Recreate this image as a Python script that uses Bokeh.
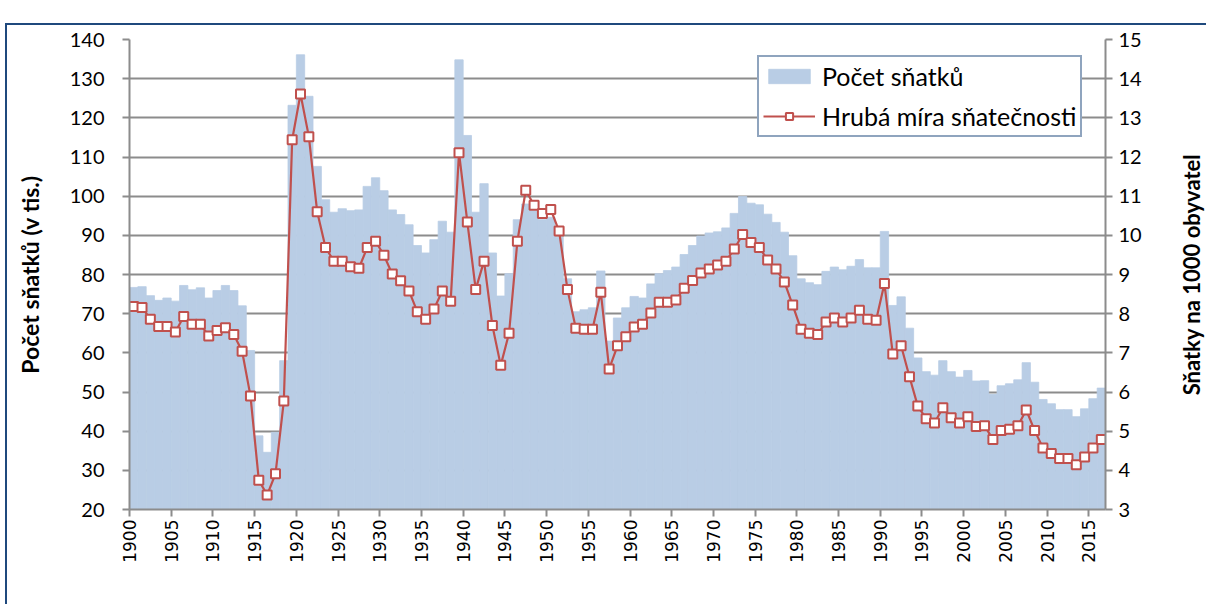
import math
from bokeh.plotting import figure
from bokeh.layouts import row
from bokeh.models import (Range1d, LinearAxis, FixedTicker, Legend, LegendItem,
                          ColumnDataSource)
from bokeh.transform import dodge
from bokeh.embed import file_html
from bokeh.resources import INLINE

years = list(range(1900, 2017))

marriages_thousands = [
    76.7, 76.9, 74.6, 73.4, 74.0, 73.2, 77.2, 76.1, 76.6, 74.0,   # 1900-1909
    75.9, 77.2, 75.9, 72.0, 60.6, 38.8, 34.6, 39.7, 58.0, 123.2,  # 1910-1919
    136.1, 125.5, 107.6, 99.1, 95.9, 96.8, 96.3, 96.5, 102.5, 104.7,  # 1920-1929
    101.4, 96.5, 95.3, 92.7, 87.4, 85.5, 88.9, 93.6, 90.8, 134.8,  # 1930-1939
    115.5, 95.9, 103.2, 85.5, 74.5, 80.2, 94.0, 98.0, 96.3, 94.0,  # 1940-1949
    94.6, 89.5, 78.9, 70.5, 71.0, 71.5, 80.9, 63.0, 68.9, 71.5,   # 1950-1959
    74.4, 74.0, 77.6, 80.2, 81.0, 81.9, 85.1, 87.4, 89.8, 90.6,   # 1960-1969
    90.9, 91.9, 95.6, 99.9, 98.2, 97.8, 95.4, 93.3, 90.8, 84.8,   # 1970-1979
    78.9, 77.9, 77.4, 80.8, 81.9, 81.2, 82.1, 83.8, 81.7, 81.7,   # 1980-1989
    91.0, 72.1, 74.3, 66.3, 58.7, 55.2, 54.3, 58.0, 55.2, 53.8,   # 1990-1999
    55.5, 52.8, 52.9, 49.4, 51.6, 52.1, 53.1, 57.5, 52.5, 48.1,   # 2000-2009
    47.0, 45.5, 45.5, 43.7, 45.7, 48.3, 51.0,                     # 2010-2016
]

crude_rate = [
    8.18, 8.16, 7.86, 7.67, 7.67, 7.53, 7.93, 7.73, 7.73, 7.43,   # 1900-1909
    7.57, 7.64, 7.47, 7.04, 5.90, 3.75, 3.37, 3.91, 5.77, 12.44,  # 1910-1919
    13.61, 12.52, 10.60, 9.69, 9.34, 9.34, 9.20, 9.16, 9.69, 9.85,  # 1920-1929
    9.49, 9.01, 8.84, 8.58, 8.05, 7.86, 8.12, 8.58, 8.32, 12.11,  # 1930-1939
    10.34, 8.62, 9.34, 7.70, 6.68, 7.50, 9.85, 11.15, 10.77, 10.56,  # 1940-1949
    10.66, 10.11, 8.62, 7.63, 7.60, 7.60, 8.55, 6.59, 7.18, 7.41,  # 1950-1959
    7.66, 7.73, 8.02, 8.29, 8.29, 8.35, 8.65, 8.85, 9.04, 9.14,   # 1960-1969
    9.24, 9.34, 9.65, 10.02, 9.82, 9.69, 9.37, 9.14, 8.81, 8.22,  # 1970-1979
    7.60, 7.50, 7.47, 7.79, 7.89, 7.79, 7.89, 8.09, 7.86, 7.83,   # 1980-1989
    8.77, 6.97, 7.18, 6.39, 5.64, 5.32, 5.21, 5.60, 5.34, 5.21,   # 1990-1999
    5.37, 5.12, 5.14, 4.79, 5.02, 5.05, 5.14, 5.54, 5.02, 4.57,   # 2000-2009
    4.43, 4.30, 4.30, 4.14, 4.34, 4.57, 4.79,                     # 2010-2016
]

x_tick_years = list(range(1900, 2016, 5))
left_ticks = list(range(20, 141, 10))
right_ticks = list(range(3, 16))

series_labels = ["Počet sňatků", "Hrubá míra sňatečnosti"]
left_title = "Počet sňatků (v tis.)"
right_title = "Sňatky na 1000 obyvatel"

BAR = "#B9CDE5"
RED = "#C0504D"
GRID = "#8C8C8C"
NAVY = "#1F497D"

src = ColumnDataSource(dict(year=years, count=marriages_thousands, rate=crude_rate))

H = 579  # canvas starts at (7, 25) inside the navy box border

p = figure(width=1153, height=H, output_backend="svg", toolbar_location=None,
           x_range=Range1d(1900, 2017), y_range=Range1d(20, 140),
           min_border_left=122, min_border_right=55, min_border_top=14,
           min_border_bottom=95)
p.extra_y_ranges = {"rate": Range1d(3, 15)}
p.outline_line_color = None
p.background_fill_color = "white"
p.border_fill_color = "white"

xc = dodge("year", 0.5, range=p.x_range)

bars = p.vbar(x=xc, width=1.0, top="count", bottom=20, source=src,
              fill_color=BAR, line_color=BAR, line_width=0.8)
line = p.line(x=xc, y="rate", source=src, y_range_name="rate",
              line_color=RED, line_width=2.2)
pts = p.scatter(x=xc, y="rate", source=src, y_range_name="rate", marker="square",
                size=9, fill_color="white", line_color=RED, line_width=2)

# grid
p.xgrid.visible = False
p.ygrid.ticker = FixedTicker(ticks=left_ticks)
p.ygrid.grid_line_color = GRID
p.ygrid.grid_line_width = 2

def style_axis(ax):
    ax.axis_line_color = GRID
    ax.axis_line_width = 2
    ax.major_tick_line_color = GRID
    ax.major_tick_line_width = 2
    ax.major_tick_out = 7
    ax.major_tick_in = 0
    ax.minor_tick_line_color = None
    ax.major_label_text_color = "black"

# x axis
xa = p.xaxis[0]
xa.ticker = FixedTicker(ticks=x_tick_years)
style_axis(xa)
xa.major_label_orientation = math.pi / 2
xa.major_label_text_font = "DejaVu Sans"
xa.major_label_text_font_size = "17px"
xa.major_label_standoff = 3

# left axis
ya = p.yaxis[0]
ya.ticker = FixedTicker(ticks=left_ticks)
style_axis(ya)
ya.major_label_text_font = "Lato"
ya.major_label_text_font_size = "20px"
ya.major_label_standoff = 18
ya.axis_label = left_title
ya.axis_label_text_font = "Lato"
ya.axis_label_text_font_style = "bold"
ya.axis_label_text_font_size = "23px"
ya.axis_label_text_color = "black"
ya.axis_label_standoff = 23

# right axis (ticks and labels)
ra = LinearAxis(y_range_name="rate", ticker=FixedTicker(ticks=right_ticks))
style_axis(ra)
ra.major_label_text_font = "Lato"
ra.major_label_text_font_size = "20px"
ra.major_label_standoff = 6
p.add_layout(ra, "right")

# legend
legend = Legend(items=[LegendItem(label=series_labels[0], renderers=[bars]),
                       LegendItem(label=series_labels[1], renderers=[line, pts])],
                location=(628, 372), orientation="vertical")
legend.label_text_font = "Lato"
legend.label_text_font_size = "25px"
legend.label_text_color = "black"
legend.glyph_width = 52
legend.glyph_height = 18
legend.label_standoff = 7
legend.padding = 4
legend.spacing = 10
legend.margin = 0
legend.border_line_color = NAVY
legend.border_line_width = 2
legend.background_fill_color = "white"
legend.background_fill_alpha = 1
p.add_layout(legend, "center")

# narrow strip carrying the right-axis title, so that it reads bottom-to-top
t = figure(width=46, height=H, output_backend="svg", toolbar_location=None,
           x_range=Range1d(0, 1), y_range=Range1d(0, 1),
           min_border_left=44, min_border_right=0, min_border_top=14,
           min_border_bottom=95)
t.outline_line_color = None
t.background_fill_color = "white"
t.border_fill_color = "white"
t.grid.visible = False
t.xaxis.visible = False
ta = t.yaxis[0]
ta.ticker = FixedTicker(ticks=[])
ta.axis_line_color = None
ta.major_tick_line_color = None
ta.minor_tick_line_color = None
ta.major_label_text_font_size = "0px"
ta.axis_label = right_title
ta.axis_label_text_font = "Lato"
ta.axis_label_text_font_style = "bold"
ta.axis_label_text_font_size = "22px"
ta.axis_label_text_color = "black"
ta.axis_label_standoff = 0

layout = row(p, t, spacing=0)
layout.styles = {"margin-top": "23px", "margin-left": "5px",
                 "border-top": f"2px solid {NAVY}", "border-left": f"2px solid {NAVY}"}

open("out.html", "w").write(file_html(layout, INLINE))
